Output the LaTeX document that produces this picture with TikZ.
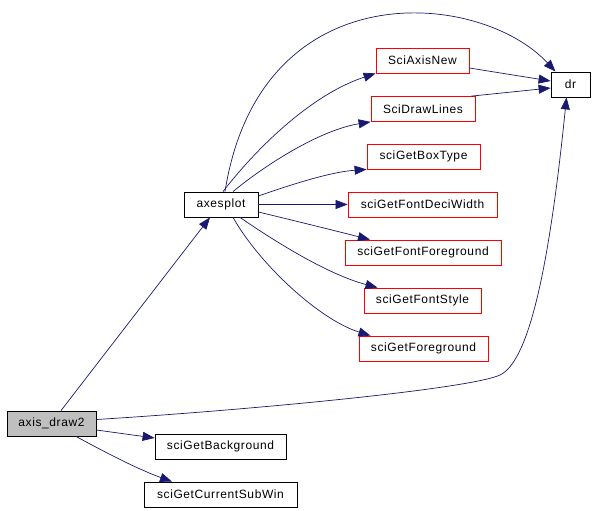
\documentclass[tikz,border=0pt]{standalone}
\usepackage{fontspec}
\setmainfont[LetterSpace=5]{Liberation Sans}
\usetikzlibrary{arrows.meta}
\definecolor{edgeblue}{HTML}{191970}
\definecolor{cellgray}{HTML}{BFBFBF}
\tikzstyle{arrow} = [draw=edgeblue, line width=0.7pt, -{Triangle[length=12pt,width=9pt]}]
\tikzstyle{fn} = [draw, line width=0.8pt, rectangle, minimum height=25pt, inner sep=0pt, font=\fontsize{12}{14}\selectfont]
\tikzstyle{ext} = [fn, draw=red]

\begin{document}
\begin{tikzpicture}[x=1pt, y=-1pt]
    \useasboundingbox (0,0) rectangle (594,511);

    \node (ad2) [fn, fill=cellgray, minimum width=89pt] at (51.5,423.5) {axis\_draw2}; % the caller
    \node (axp) [fn, minimum width=74pt] at (221,204.5) {axesplot};
    \node (dr) [fn, minimum width=39pt] at (570.5,84.5) {dr};

    \node (axnew) [ext, minimum width=93pt] at (422.5,60.5) {SciAxisNew};
    \node (drawl) [ext, minimum width=104pt] at (423,109) {SciDrawLines};
    \node (boxt) [ext, minimum width=113pt] at (423.5,156.5) {sciGetBoxType};
    \node (fdw) [ext, minimum width=149pt] at (422.5,204.5) {sciGetFontDeciWidth};
    \node (ffg) [ext, minimum width=156pt] at (423,252.5) {sciGetFontForeground};
    \node (fst) [ext, minimum width=117pt] at (422.5,300.5) {sciGetFontStyle};
    \node (fg) [ext, minimum width=129pt] at (423.5,348.5) {sciGetForeground};

    \node (bg) [fn, minimum width=131pt] at (220.5,446.5) {sciGetBackground};
    \node (csw) [fn, minimum width=153pt] at (220.5,494.5) {sciGetCurrentSubWin};

    % calls of axis_draw2
    \draw [arrow] ([xshift=9.5pt]ad2.north) -- ([xshift=-11pt]axp.south);
    \draw [arrow] ([yshift=4pt]ad2.east) .. controls (250,410) and (470,389) .. (500,375)
        .. controls (527,362) and (548,280) .. ([xshift=-4pt]dr.south);
    \draw [arrow] ([yshift=-6.5pt]ad2.east) -- ([yshift=8.5pt]bg.west);
    \draw [arrow] ([xshift=24.5pt]ad2.south) .. controls (110,455) and (140,470) .. ([xshift=-48.5pt]csw.north);

    % calls of axesplot
    \draw [arrow] ([xshift=4pt]axp.north) .. controls (260,-30) and (480,-10) .. ([xshift=-15pt]dr.north);
    \draw [arrow] ([xshift=2pt]axp.north) .. controls (255,150) and (310,95) .. (axnew.south west);
    \draw [arrow] ([xshift=12pt]axp.north) .. controls (265,165) and (320,130) .. (drawl.south west);
    \draw [arrow] ([yshift=8.5pt]axp.east) .. controls (290,185) and (330,172) .. (boxt.south west);
    \draw [arrow] (axp.east) -- (fdw.west);
    \draw [arrow] ([yshift=-7.5pt]axp.east) .. controls (300,222) and (340,232) .. ([xshift=-53pt]ffg.north);
    \draw [arrow] ([xshift=19pt]axp.south) .. controls (280,245) and (330,275) .. ([xshift=-45pt]fst.north);
    \draw [arrow] ([xshift=12pt]axp.south) .. controls (260,265) and (320,320) .. ([xshift=-53pt]fg.north);

    % into dr
    \draw [arrow] ([yshift=-7.5pt]axnew.east) -- ([yshift=3.5pt]dr.west);
    \draw [arrow] ([xshift=-4pt]drawl.north east) -- ([yshift=-3.5pt]dr.west);
\end{tikzpicture}
\end{document}
